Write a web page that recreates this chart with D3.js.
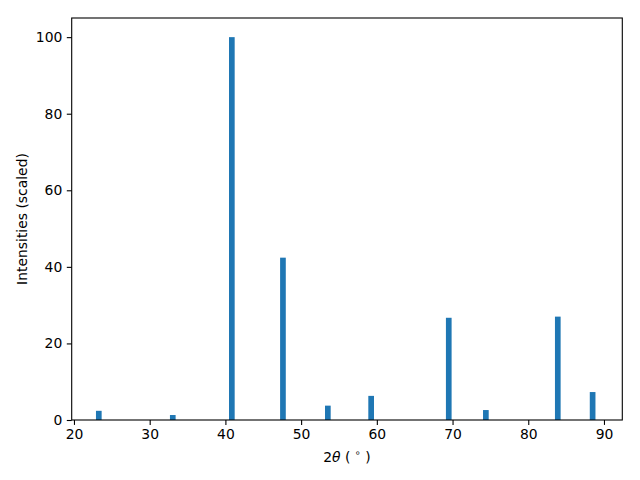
<!DOCTYPE html>
<html>
<head>
<meta charset="utf-8">
<script src="https://cdn.jsdelivr.net/npm/d3@7"></script>
<style>
  body { margin: 0; background: #fff; }
  svg { font-family: "DejaVu Sans", sans-serif; }
</style>
</head>
<body>
<svg id="chart" width="640" height="480"></svg>
<script>
// peak positions (2theta) and scaled intensities
var twoTheta = [23.28, 33.05, 40.85, 47.6, 53.53, 59.25, 69.5, 74.4, 83.9, 88.5];
var intensity = [2.4, 1.3, 100, 42.4, 3.75, 6.3, 26.7, 2.6, 27.0, 7.3];
var xTicks = [20, 30, 40, 50, 60, 70, 80, 90];
var yTicks = [0, 20, 40, 60, 80, 100];
var barWidth = 0.75;

drawChart();

function drawChart()
{
    var svg = d3.select("#chart"),
        left = 71.7, right = 622.3, topY = 18, bottomY = 420;

    var x = d3.scaleLinear().domain([19.7, 92.42]).range([left, right]);
    var y = d3.scaleLinear().domain([0, 105]).range([bottomY, topY]);

    var data = twoTheta.map(function(t, i) { return { t: t, v: intensity[i] }; });

    svg.append("g")
       .selectAll("rect")
       .data(data)
       .enter().append("rect")
       .attr("x", function(d) { return x(d.t - barWidth / 2); })
       .attr("y", function(d) { return y(d.v); })
       .attr("width", function(d) { return x(d.t + barWidth / 2) - x(d.t - barWidth / 2); })
       .attr("height", function(d) { return y(0) - y(d.v); })
       .attr("fill", "#1f77b4");

    // axes
    var xAxis = svg.append("g")
       .attr("transform", "translate(0," + bottomY + ")")
       .call(d3.axisBottom(x).tickValues(xTicks).tickSize(4.9).tickPadding(4.5));
    var yAxis = svg.append("g")
       .attr("transform", "translate(" + left + ",0)")
       .call(d3.axisLeft(y).tickValues(yTicks).tickSize(4.9).tickPadding(4.5));

    [xAxis, yAxis].forEach(function(a) {
        a.select(".domain").remove();
        a.selectAll("line").attr("stroke", "#000").attr("stroke-width", 1.1);
        a.selectAll("text").attr("font-size", "13.9px").attr("fill", "#000")
         .attr("font-family", "DejaVu Sans");
    });

    // frame
    svg.append("rect")
       .attr("x", left).attr("y", topY)
       .attr("width", right - left).attr("height", bottomY - topY)
       .attr("fill", "none").attr("stroke", "#000").attr("stroke-width", 1.1);

    // labels
    var xl = svg.append("text")
       .attr("x", (left + right) / 2)
       .attr("y", 462)
       .attr("text-anchor", "middle")
       .attr("font-size", "13.9px");
    xl.append("tspan").text("2");
    xl.append("tspan").attr("font-style", "italic").text("θ");
    xl.append("tspan").text(" ( ");
    xl.append("tspan").attr("font-size", "9.7px").attr("dy", -6).text("∘");
    xl.append("tspan").attr("dy", 6).text(" )");

    svg.append("text")
       .attr("transform", "translate(27," + (topY + bottomY) / 2 + ") rotate(-90)")
       .attr("text-anchor", "middle")
       .attr("font-size", "13.9px")
       .text("Intensities (scaled)");
}
</script>
</body>
</html>
